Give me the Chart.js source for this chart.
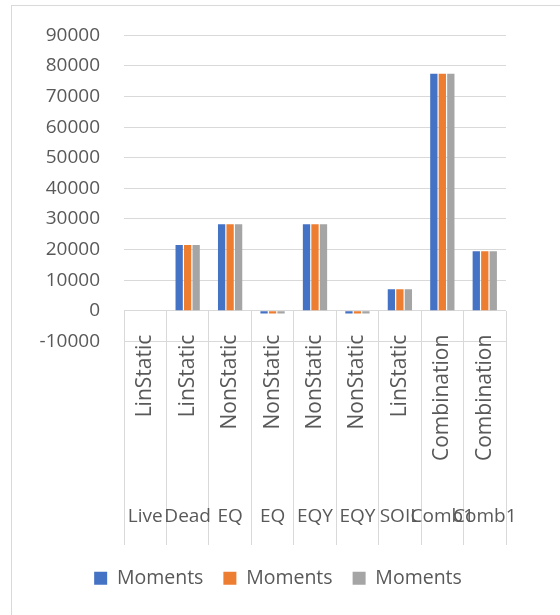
<!DOCTYPE html>
<html>
<head>
<meta charset="utf-8">
<script src="https://cdn.jsdelivr.net/npm/chart.js@4.4.1/dist/chart.umd.min.js"></script>
<style>
  html, body { margin: 0; padding: 0; background: #fff; }
  #frame { position: absolute; left: 11px; top: 5px; width: 600px; height: 700px; border: 1.5px solid #d9d9d9; }
  #wrap { position: absolute; left: 0; top: 0; width: 560px; height: 615px; }
</style>
</head>
<body>
<div id="frame"></div>
<div id="wrap"><canvas id="chart"></canvas></div>
<script>
// categories (two label levels) and series values
const caseTypes = ['LinStatic', 'LinStatic', 'NonStatic', 'NonStatic', 'NonStatic', 'NonStatic', 'LinStatic', 'Combination', 'Combination'];
const caseNames = ['Live', 'Dead', 'EQ', 'EQ', 'EQY', 'EQY', 'SOIL', 'Comb1', 'Comb1'];
const seriesNames = ['Moments', 'Moments', 'Moments'];
const moments1 = [0, 21500, 28300, -900, 28300, -900, 7000, 77500, 19400];
const moments2 = [0, 21500, 28300, -900, 28300, -900, 7000, 77500, 19400];
const moments3 = [0, 21500, 28300, -900, 28300, -900, 7000, 77500, 19400];
const yTicks = [-10000, 0, 10000, 20000, 30000, 40000, 50000, 60000, 70000, 80000, 90000];

const colors = ['#4472C4', '#ED7D31', '#A5A5A5'];
const grid = '#d9d9d9';

Chart.defaults.font.family = "'Open Sans', sans-serif";
Chart.defaults.font.size = 19;
Chart.defaults.color = '#595959';

const makeSet = (i, values) => ({
  label: seriesNames[i],
  data: values,
  backgroundColor: colors[i],
  borderWidth: 0,
  categoryPercentage: 0.6,
  barPercentage: 0.86,
});

// nudge the legend a little to the right, like the original
const legendShift = {
  id: 'legendShift',
  afterLayout(chart) {
    chart.legend.left += 6;
    chart.legend.right += 6;
  },
};

const chart = new Chart(document.getElementById('chart'), {
  type: 'bar',
  data: {
    labels: caseTypes,
    datasets: [makeSet(0, moments1), makeSet(1, moments2), makeSet(2, moments3)],
  },
  plugins: [legendShift],
  options: {
    responsive: true,
    maintainAspectRatio: false,
    animation: false,
    layout: { padding: { left: 38, right: 54, top: 35, bottom: 17 } },
    scales: {
      y: {
        min: yTicks[0],
        max: yTicks[yTicks.length - 1],
        afterBuildTicks: (s) => { s.ticks = yTicks.map(v => ({ value: v })); },
        afterFit: (s) => { s.width = 86; },
        ticks: { padding: 24, callback: (v) => v },
        grid: { color: grid, drawTicks: false },
        border: { display: false },
      },
      x: {
        position: { y: 0 },
        offset: true,
        grid: { display: false },
        border: { display: false },
        ticks: { minRotation: 90, maxRotation: 90, autoSkip: false, padding: 16, font: { size: 21 } },
      },
      x2: {
        type: 'category',
        labels: caseNames,
        position: { y: 0 },
        offset: true,
        grid: { offset: true, drawOnChartArea: false, drawTicks: true, tickLength: 234, tickColor: grid, color: grid },
        border: { display: false },
        ticks: { minRotation: 0, maxRotation: 0, autoSkip: false, padding: -40 },
      },
    },
    plugins: {
      tooltip: { enabled: false },
      legend: {
        position: 'bottom',
        title: { display: true, text: ' ', font: { size: 1 }, padding: { top: 206, bottom: 0 } },
        labels: { boxWidth: 13, boxHeight: 13, padding: 20, font: { size: 19.5 } },
      },
    },
  },
});
</script>
</body>
</html>
